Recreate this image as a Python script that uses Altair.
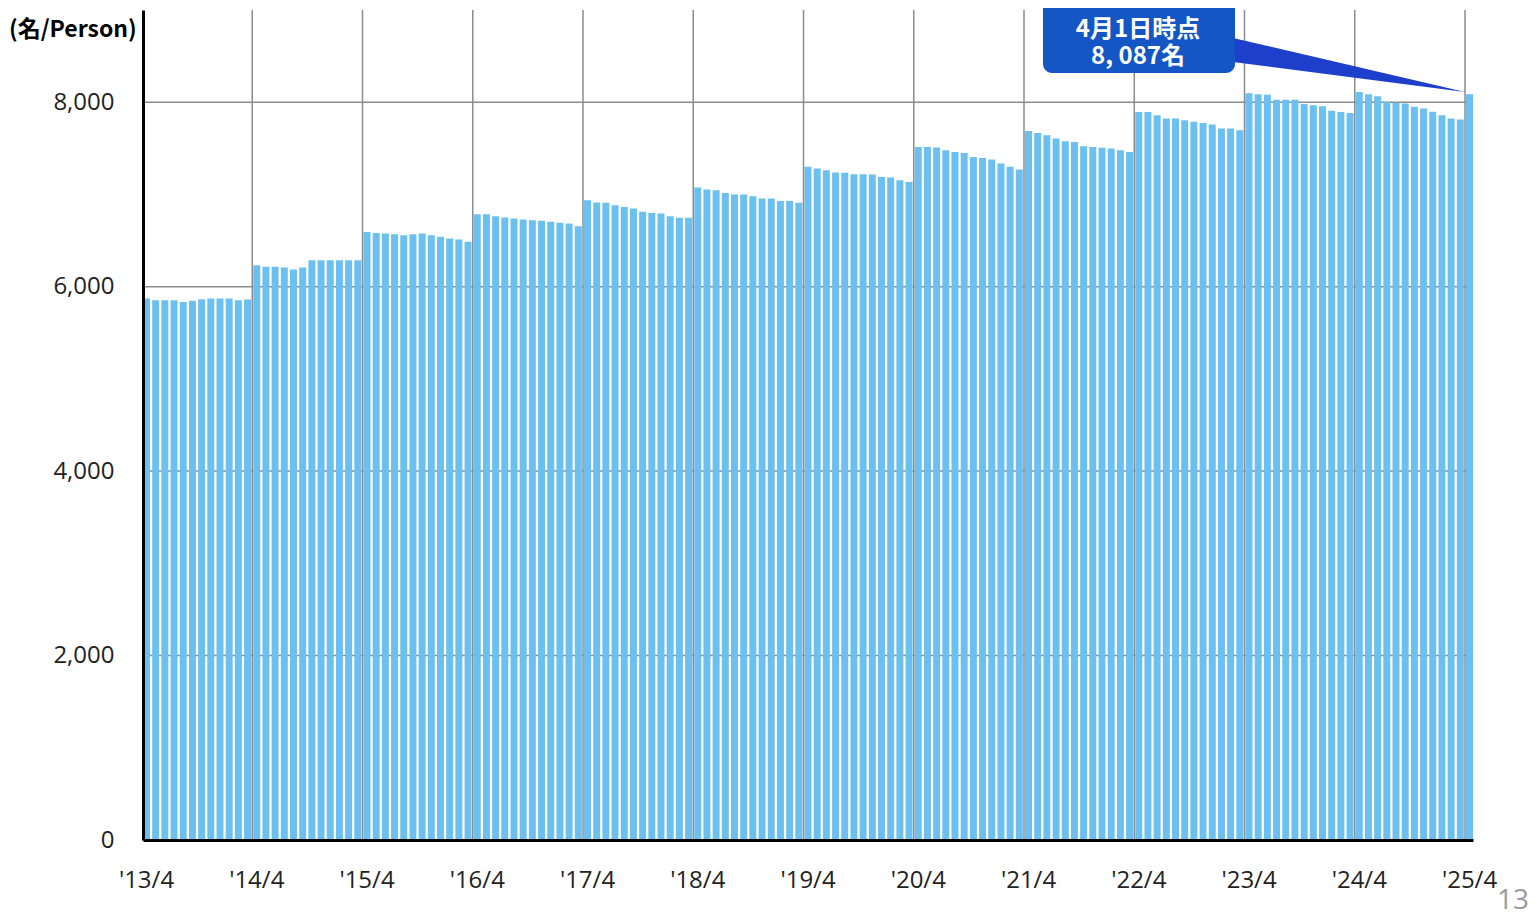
import altair as alt
import pandas as pd

# Monthly headcount (persons), fiscal years starting in April
fiscal_years = [2013, 2014, 2015, 2016, 2017, 2018, 2019, 2020, 2021, 2022, 2023, 2024, 2025]
fy2013 = [5872, 5854, 5854, 5854, 5835, 5846, 5864, 5872, 5872, 5872, 5854, 5860]
fy2014 = [6233, 6215, 6215, 6208, 6186, 6208, 6287, 6287, 6287, 6287, 6287, 6287]
fy2015 = [6594, 6583, 6576, 6569, 6558, 6569, 6576, 6558, 6540, 6522, 6511, 6486]
fy2016 = [6786, 6786, 6764, 6750, 6739, 6728, 6721, 6714, 6703, 6692, 6685, 6656]
fy2017 = [6938, 6912, 6909, 6883, 6865, 6848, 6811, 6800, 6793, 6764, 6746, 6746]
fy2018 = [7075, 7054, 7046, 7017, 7000, 7000, 6981, 6956, 6956, 6930, 6930, 6909]
fy2019 = [7299, 7281, 7263, 7238, 7234, 7219, 7219, 7216, 7190, 7183, 7154, 7136]
fy2020 = [7515, 7515, 7508, 7480, 7461, 7450, 7407, 7396, 7378, 7335, 7299, 7270]
fy2021 = [7689, 7667, 7642, 7606, 7577, 7570, 7523, 7515, 7505, 7498, 7480, 7461]
fy2022 = [7895, 7895, 7859, 7823, 7823, 7805, 7787, 7776, 7758, 7715, 7715, 7696]
fy2023 = [8098, 8087, 8080, 8026, 8026, 8026, 7980, 7966, 7955, 7908, 7893, 7883]
fy2024 = [8112, 8087, 8065, 8004, 7993, 7986, 7950, 7932, 7896, 7859, 7823, 7812]
fy2025 = [8087]
series = [fy2013, fy2014, fy2015, fy2016, fy2017, fy2018, fy2019, fy2020,
          fy2021, fy2022, fy2023, fy2024, fy2025]

y_ticks = [0, 2000, 4000, 6000, 8000]
unit_label = "(名/Person)"
callout_lines = ["4月1日時点", "8, 087名"]
page_number = "13"

rows = []
for fy, vals in zip(fiscal_years, series):
    for i, v in enumerate(vals):
        m = (3 + i) % 12 + 1
        yr = fy if i < 9 else fy + 1
        rows.append({"month": f"'{yr % 100:02d}/{m}", "value": v})
df = pd.DataFrame(rows)
order = list(df["month"])
aprils = [f"'{fy % 100:02d}/4" for fy in fiscal_years]
df_vrules = pd.DataFrame({"month": aprils[1:]})
df_hrules = pd.DataFrame({"value": y_ticks[1:]})

W, H = 1330, 830
GRID = "#8c8c8c"
BAR = "#6CC0EF"

x_scale = alt.Scale(paddingInner=0.24, paddingOuter=0)
y_scale = alt.Scale(domain=[0, 9000], nice=False)

hgrid = alt.Chart(df_hrules).mark_rule(color=GRID, strokeWidth=1.5).encode(
    y=alt.Y("value:Q", scale=y_scale),
    x=alt.value(0), x2=alt.value(W),
)

bars = alt.Chart(df).mark_bar(color=BAR).encode(
    x=alt.X("month:O", sort=order, scale=x_scale, title=None,
            axis=alt.Axis(values=aprils, labelAngle=0, ticks=False, grid=False,
                          domainColor="black", domainWidth=3,
                          labelFont="Open Sans", labelFontSize=24, labelColor="#222",
                          labelPadding=28, zindex=1)),
    y=alt.Y("value:Q", scale=y_scale, title=None,
            axis=alt.Axis(values=y_ticks, format=",d", ticks=False, grid=False,
                          domainColor="black", domainWidth=3,
                          labelFont="Open Sans", labelFontSize=24, labelColor="#222",
                          labelPadding=29, zindex=1)),
)

vgrid = alt.Chart(df_vrules).mark_rule(color=GRID, strokeWidth=1.5, xOffset=-1).encode(
    x=alt.X("month:O", sort=order, bandPosition=0),
    y=alt.value(0), y2=alt.value(H),
)

one = alt.Data(values=[{}])

box = alt.Chart(one).mark_rect(color="#1456C4", cornerRadius=9).encode(
    x=alt.value(900), x2=alt.value(1092), y=alt.value(-14), y2=alt.value(63)
)

wedge = alt.Chart(one).mark_point(
    shape="M0,0 L-232,-54 L-232,-30 Z", filled=True, size=4,
    color="#1E3FCB", opacity=1, strokeWidth=0
).encode(x=alt.value(1322), y=alt.value(82))

callout = alt.Chart(one).mark_text(
    color="white", fontSize=24, fontWeight="bold", font="Noto Sans CJK JP",
    align="center", baseline="middle", lineHeight=27
).encode(x=alt.value(995), y=alt.value(20), text=alt.value(callout_lines))

unit = alt.Chart(one).mark_text(
    color="black", fontSize=23, font="Noto Sans CJK JP", fontWeight="bold",
    align="left", baseline="middle"
).encode(x=alt.value(-134), y=alt.value(20), text=alt.value(unit_label))

pnum = alt.Chart(one).mark_text(
    color="#9a9a9a", fontSize=28, font="Open Sans",
    align="right", baseline="alphabetic"
).encode(x=alt.value(1386), y=alt.value(899), text=alt.value(page_number))

chart = alt.layer(hgrid, bars, vgrid, wedge, box, callout, unit, pnum).properties(
    width=W, height=H,
    padding={"left": 135, "top": 2, "right": 56, "bottom": 76},
    autosize=alt.AutoSizeParams(type="none"),
).configure_view(strokeWidth=0)

chart.save("out.html", embed_options={"renderer": "svg", "actions": False})
